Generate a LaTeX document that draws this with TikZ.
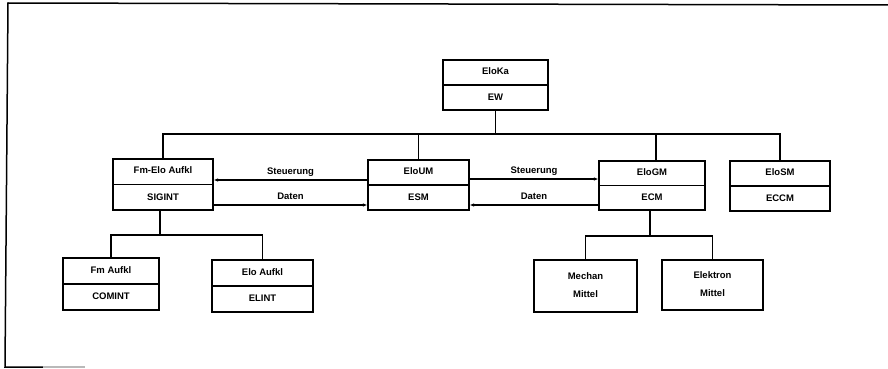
\documentclass[tikz,border=0pt]{standalone}
\usepackage{fontspec}
\setmainfont{Liberation Sans}
\usetikzlibrary{calc,arrows.meta}
\tikzset{
  box/.style={draw, line width=1.2pt, inner sep=0pt},
  lbl/.style={font=\fontsize{9.5}{11}\selectfont\bfseries, inner sep=0pt, text height=6.8pt, text depth=1.8pt},
  conn/.style={line width=1.2pt},
  arr/.style={line width=1.2pt, -{Latex[length=4.5pt,width=3.5pt]}},
  framestyle/.style={line width=1.5pt}
}
\newcommand\drawsplitbox[7]{%
  \node[box, minimum width=#4pt, minimum height=#5pt] (#1) at (#2,#3) {};
  \draw[conn] (#1.west) -- (#1.east);
  \node[lbl] (#1-top) at ($(#1.north)!0.5!(#1.center)$) {#6};
  \node[lbl] (#1-bot) at ($(#1.center)!0.5!(#1.south)$) {#7};
}
\newcommand\drawtwolinebox[7]{%
  \node[box, minimum width=#4pt, minimum height=#5pt] (#1) at (#2,#3) {};
  \node[lbl] (#1-top) at ($(#1.center)+(0,-9)$) {#6};
  \node[lbl] (#1-bot) at ($(#1.center)+(0,9)$) {#7};
}
\begin{document}
\begin{tikzpicture}[x=1pt,y=-1pt]
\useasboundingbox (0,0) rectangle (888,369);
% frame
\draw[framestyle] (888,5) -- (8,3) -- (5,367) -- (43,367);
\draw[framestyle, gray!55] (43,367) -- (85,367);

% boxes
\drawsplitbox{eloka}{495.5}{85}{105}{50}{EloKa}{EW}
\drawsplitbox{fmelo}{163}{184.5}{100}{51}{Fm-Elo Aufkl}{SIGINT}
\drawsplitbox{eloum}{418.5}{185}{101}{50}{EloUM}{ESM}
\drawsplitbox{elogm}{652}{185.5}{106}{49}{EloGM}{ECM}
\drawsplitbox{elosm}{780}{186}{100}{50}{EloSM}{ECCM}
\drawsplitbox{fmaufkl}{111}{284}{96}{52}{Fm Aufkl}{COMINT}
\drawsplitbox{eloaufkl}{262.5}{286}{101}{52}{Elo Aufkl}{ELINT}
\drawtwolinebox{mechan}{585.5}{286}{103}{52}{Mechan}{Mittel}
\drawtwolinebox{elektron}{712.5}{285}{101}{50}{Elektron}{Mittel}

% top level tree
\coordinate (bus) at (0,134);
\draw[conn] (eloka.south) -- (eloka.south |- bus);
\draw[conn] (fmelo.north) -- (fmelo.north |- bus) -- (elosm.north |- bus) -- (elosm.north);
\draw[conn] (eloum.north) -- (eloum.north |- bus);
\draw[conn] ([xshift=4pt]elogm.north) -- ([xshift=4pt]elogm.north |- bus);

% SIGINT subtree
\coordinate (busa) at (0,235);
\draw[conn] ([xshift=-3pt]fmelo.south) -- ([xshift=-3pt]fmelo.south |- busa);
\draw[conn] (fmaufkl.north) |- (eloaufkl.north |- busa) -- (eloaufkl.north);

% ECM subtree
\coordinate (busb) at (0,236);
\draw[conn] ([xshift=-2pt]elogm.south) -- ([xshift=-2pt]elogm.south |- busb);
\draw[conn] (mechan.north) |- (elektron.north |- busb) -- (elektron.north);

% data / control arrows
\draw[arr] (eloum.west |- 0,180) -- node[lbl, above=3pt] {Steuerung} (fmelo.east |- 0,180);
\draw[arr] (fmelo.east |- 0,205) -- node[lbl, above=3pt] {Daten} (eloum.west |- 0,205);
\draw[arr] (eloum.east |- 0,179) -- node[lbl, above=3pt] {Steuerung} (elogm.west |- 0,179);
\draw[arr] (elogm.west |- 0,205) -- node[lbl, above=3pt] {Daten} (eloum.east |- 0,205);
\end{tikzpicture}
\end{document}
